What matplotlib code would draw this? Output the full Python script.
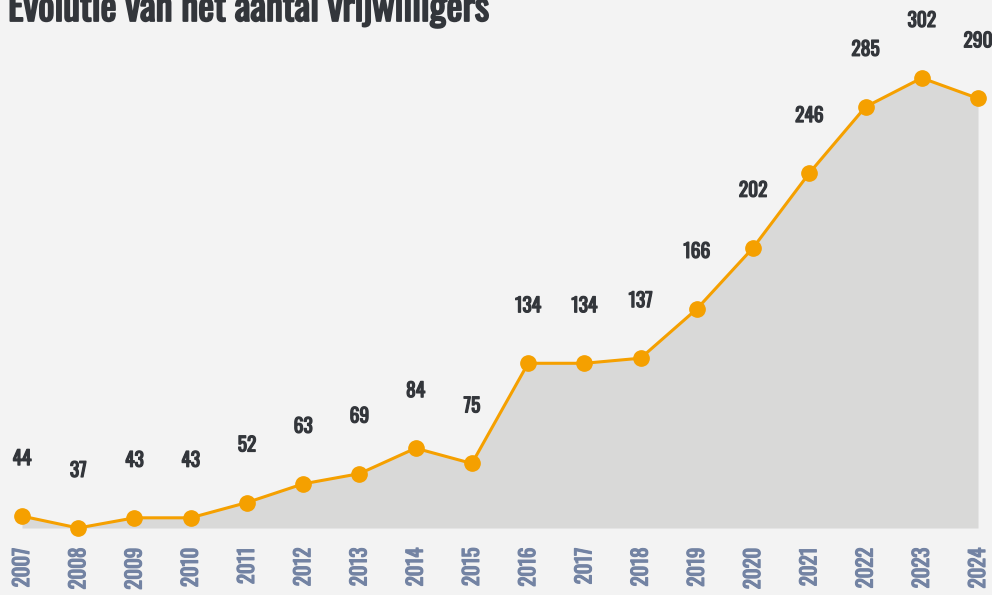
import matplotlib
matplotlib.use("Agg")
import matplotlib.pyplot as plt
import matplotlib.patheffects as pe

years = [2007, 2008, 2009, 2010, 2011, 2012, 2013, 2014, 2015, 2016,
         2017, 2018, 2019, 2020, 2021, 2022, 2023, 2024]
volunteers = [44, 37, 43, 43, 52, 63, 69, 84, 75, 134,
              134, 137, 166, 202, 246, 285, 302, 290]
title = "Evolutie van het aantal vrijwilligers"

FONT = ['Oswald', 'DejaVu Sans']
BG = '#f3f3f3'
ORANGE = '#f5a000'
FILL = '#d9d9d8'
TEXT = '#33363b'
TICK = '#7383a3'

W, H = 992, 595
fig = plt.figure(figsize=(W / 100, H / 100), dpi=100, facecolor=BG)
bottom_px = 528
ax = fig.add_axes([0, (H - bottom_px) / H, 1, bottom_px / H])
ax.set_facecolor(BG)

px_per_year = (978 - 22) / (len(years) - 1)
ax.set_xlim(years[0] - 22 / px_per_year, years[-1] + (W - 978) / px_per_year)
ymin = min(volunteers)
px_per_unit = (528 - 78) / (max(volunteers) - ymin)
ax.set_ylim(ymin, ymin + bottom_px / px_per_unit)

ax.fill_between(years, volunteers, ymin, color=FILL, lw=0, zorder=1)
ax.plot(years, volunteers, color=ORANGE, lw=2.2, marker='o', ms=11,
        mec=ORANGE, mfc=ORANGE, zorder=3, clip_on=False)

bold_text = [pe.withStroke(linewidth=0.9, foreground=TEXT)]
bold_tick = [pe.withStroke(linewidth=0.9, foreground=TICK)]

for x, v in zip(years, volunteers):
    ax.annotate(str(v), (x, v), xytext=(0, 41.8), textcoords='offset points',
                ha='center', va='center', fontsize=14, fontweight='bold',
                color=TEXT, family=FONT, path_effects=bold_text)

ax.set_xticks(years)
ax.set_xticklabels([str(y) for y in years], rotation=90, family=FONT,
                   fontsize=15, fontweight='bold', color=TICK, va='top')
for t in ax.get_xticklabels():
    t.set_path_effects(bold_tick)
ax.tick_params(axis='x', length=0, pad=14)
ax.set_yticks([])
for s in ax.spines.values():
    s.set_visible(False)

fig.text(8 / W, 1 - 21 / H, title, ha='left', va='baseline', fontsize=27.5,
         fontweight='bold', color=TEXT, family=FONT,
         path_effects=[pe.withStroke(linewidth=1.3, foreground=TEXT)])

fig.savefig('out.png', dpi=100, facecolor=BG)
